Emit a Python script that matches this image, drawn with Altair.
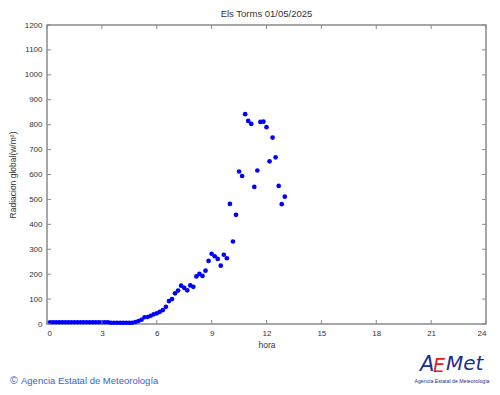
import altair as alt
import pandas as pd

# ---- data ----
hora = [
    "00:10","00:20","00:30","00:40","00:50","01:00","01:10","01:20","01:30","01:40","01:50","02:00",
    "02:10","02:20","02:30","02:40","02:50","03:00","03:10","03:20","03:30","03:40","03:50","04:00",
    "04:10","04:20","04:30","04:40","04:50","05:00","05:10","05:20","05:30","05:40","05:50","06:00",
    "06:10","06:20","06:30","06:40","06:50","07:00","07:10","07:20","07:30","07:40","07:50","08:00",
    "08:10","08:20","08:30","08:40","08:50","09:00","09:10","09:20","09:30","09:40","09:50","10:00",
    "10:10","10:20","10:30","10:40","10:50","11:00","11:10","11:20","11:30","11:40","11:50","12:00",
    "12:10","12:20","12:30","12:40","12:50","13:00",
]
radiacion = [
    7, 7, 7, 7, 7, 7, 7, 7, 7, 7, 7, 7,
    7, 7, 7, 7, 7, 7, 7, 7, 5, 5, 5, 5,
    5, 5, 5, 5, 8, 12, 17, 27, 28, 33, 39, 43,
    49, 56, 69, 92, 100, 123, 134, 154, 145, 135, 155, 149,
    191, 201, 193, 214, 253, 282, 272, 261, 234, 278, 264, 482,
    331, 438, 612, 594, 842, 815, 803, 550, 616, 811, 812, 790,
    653, 748, 669, 554, 481, 511,
]
x_ticks = [0, 3, 6, 9, 12, 15, 18, 21, 24]
y_ticks = [0, 100, 200, 300, 400, 500, 600, 700, 800, 900, 1000, 1100, 1200]

titulo = "Els Torms 01/05/2025"
titulo_y = "Radiacion global(w/m²)"
titulo_x = "hora"
pie = "Agencia Estatal de Meteorología"

W, H = 439, 299
FONT = "Liberation Sans"
GRAY = "#8a8a8a"

df = pd.DataFrame({"hora": hora, "rad": radiacion})
df["h"] = [int(s[:2]) + int(s[3:]) / 60 for s in hora]

xs = alt.Scale(domain=[0, 24], nice=False, zero=False)
ys = alt.Scale(domain=[0, 1200], nice=False)
xaxis = alt.Axis(values=x_ticks, title=titulo_x, format="d", labelOverlap=False)
yaxis = alt.Axis(values=y_ticks, title=titulo_y, format="d", labelOverlap=False)

points = alt.Chart(df).mark_circle(color="#0000ff", opacity=1, size=22).encode(
    x=alt.X("h:Q", scale=xs, axis=xaxis),
    y=alt.Y("rad:Q", scale=ys, axis=yaxis),
)

xt = pd.DataFrame({"v": x_ticks})
yt = pd.DataFrame({"v": y_ticks})
tick_style = dict(color=GRAY, strokeWidth=1)
xb = alt.Chart(xt).mark_rule(**tick_style).encode(
    x=alt.X("v:Q", scale=xs, axis=xaxis), y=alt.value(H), y2=alt.value(H - 4))
xtp = alt.Chart(xt).mark_rule(**tick_style).encode(
    x=alt.X("v:Q", scale=xs, axis=xaxis), y=alt.value(0), y2=alt.value(4))
yl = alt.Chart(yt).mark_rule(**tick_style).encode(
    y=alt.Y("v:Q", scale=ys, axis=yaxis), x=alt.value(0), x2=alt.value(4))
yr = alt.Chart(yt).mark_rule(**tick_style).encode(
    y=alt.Y("v:Q", scale=ys, axis=yaxis), x=alt.value(W), x2=alt.value(W - 4))

def txt(s, x, y, size, color, align="left", style="normal", weight="normal", font=FONT):
    return alt.Chart(pd.DataFrame({"t": [s]})).mark_text(
        align=align, baseline="middle", fontSize=size, color=color,
        fontStyle=style, fontWeight=weight, font=font,
    ).encode(text="t:N", x=alt.value(x), y=alt.value(y))

foot_c = txt("©", -37, 356, 10.5, "#3a5fcd")
foot_t = txt(pie, -26, 356, 9.5, "#3a5fcd")
logo_a = txt("A", 373, 340, 21, "#1c2f8f", style="italic", font="DejaVu Sans")
logo_e = txt("E", 386, 341, 19, "#e02020", style="italic", font="DejaVu Sans")
logo_m = txt("Met", 399, 339, 20, "#1c2f8f", style="italic", font="DejaVu Sans")
logo_s = txt("Agencia Estatal de Meteorología", 405, 356, 5.2, "#1c2f8f", align="center")

chart = alt.layer(
    points, xb, xtp, yl, yr,
    foot_c, foot_t, logo_a, logo_e, logo_m, logo_s,
).properties(
    width=W, height=H,
    title=alt.TitleParams(titulo, fontSize=9.5, font=FONT, fontWeight="normal",
                          color="#333333", offset=3, anchor="middle"),
    autosize=alt.AutoSizeParams(type="none"),
    padding={"left": 39, "top": 17, "right": 6, "bottom": 63},
).configure_view(
    stroke=GRAY, strokeWidth=1.5,
).configure_axis(
    grid=False, domain=False, tickSize=0, labelFont=FONT, titleFont=FONT,
    labelFontSize=8, titleFontSize=8.5, labelColor="#333333", titleColor="#333333",
    titleFontWeight="normal", labelPadding=5,
).configure_axisX(
    titlePadding=3,
).configure_axisY(
    titlePadding=7,
)

chart.save("out.html", embed_options={"renderer": "svg", "actions": False})
